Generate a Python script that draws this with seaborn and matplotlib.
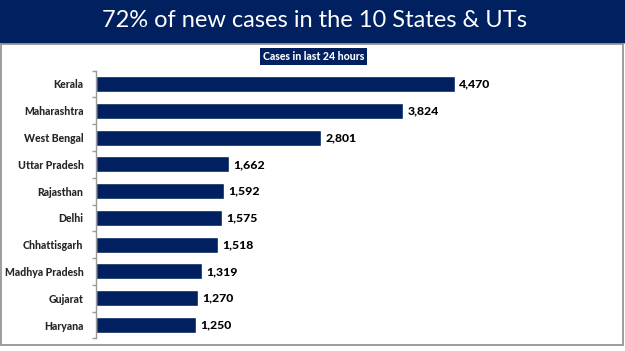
import matplotlib
matplotlib.use("Agg")
import matplotlib.pyplot as plt
from matplotlib.patches import Rectangle
from matplotlib.ticker import FixedLocator
import seaborn as sns
import pandas as pd
import numpy as np

states = ["Kerala", "Maharashtra", "West Bengal", "Uttar Pradesh", "Rajasthan",
          "Delhi", "Chhattisgarh", "Madhya Pradesh", "Gujarat", "Haryana"]
cases = [4470, 3824, 2801, 1662, 1592, 1575, 1518, 1319, 1270, 1250]

title = "72% of new cases in the 10 States & UTs"
subtitle = "Cases in last 24 hours"

NAVY = "#002060"

sns.set_theme(style="white")
plt.rcParams["font.family"] = ["Lato", "DejaVu Sans"]

W, H = 625, 351
fig = plt.figure(figsize=(W / 100, H / 100), dpi=100)

# header band
fig.patches.append(Rectangle((0, (H - 42.5) / H), 1, 42.5 / H, transform=fig.transFigure,
                             facecolor=NAVY, edgecolor="none", zorder=0))
fig.patches.append(Rectangle((0, (H - 43.8) / H), 1, 1.3 / H, transform=fig.transFigure,
                             facecolor="#d08a4a", edgecolor="none", zorder=0))
# panel border
fig.patches.append(Rectangle((1.5 / W, (H - 345) / H), 621 / W, (345 - 44) / H,
                             transform=fig.transFigure, facecolor="none",
                             edgecolor="#8c8c8c", linewidth=1.2, zorder=0))

fig.text(314 / W, (H - 20.5) / H, title, color="white", fontsize=17,
         ha="center", va="center")
fig.text(313.5 / W, (H - 56.5) / H, subtitle, color="white", fontsize=7.6,
         fontweight=900, ha="center", va="center",
         bbox=dict(boxstyle="square,pad=0.3", facecolor=NAVY, edgecolor="none"))

left, right = 96, 600
top, bottom = 70.6, 338.4
ax = fig.add_axes([left / W, (H - bottom) / H, (right - left) / W, (bottom - top) / H])

df = pd.DataFrame({"state": states, "cases": cases})
sns.barplot(data=df, y="state", x="cases", orient="h", color=NAVY,
            width=0.6, saturation=1, ax=ax)

ax.set_xlim(0, 4470 * (right - left) / (455 - left))
ax.set_ylim(len(states) - 0.5, -0.5)
for i, v in enumerate(cases):
    ax.annotate(f"{v:,}", (v, i), xytext=(3, 0), textcoords="offset points",
                va="center", ha="left", fontsize=8.8, fontweight=900, color="black")

ax.set_xlabel("")
ax.set_ylabel("")
ax.xaxis.set_visible(False)
for s in ["top", "right", "bottom"]:
    ax.spines[s].set_visible(False)
ax.spines["left"].set_color("#9a9a9a")
ax.spines["left"].set_linewidth(1.0)
ax.tick_params(axis="y", which="major", length=0, pad=9, labelsize=7.6)
for lbl in ax.get_yticklabels():
    lbl.set_fontweight(900)
ax.yaxis.set_minor_locator(FixedLocator(np.arange(-0.5, len(states), 1.0)))
ax.tick_params(axis="y", which="minor", length=3, width=1.0, color="#9a9a9a",
               direction="out", left=True)
ax.patch.set_alpha(0)

fig.savefig("out.png", dpi=100)
